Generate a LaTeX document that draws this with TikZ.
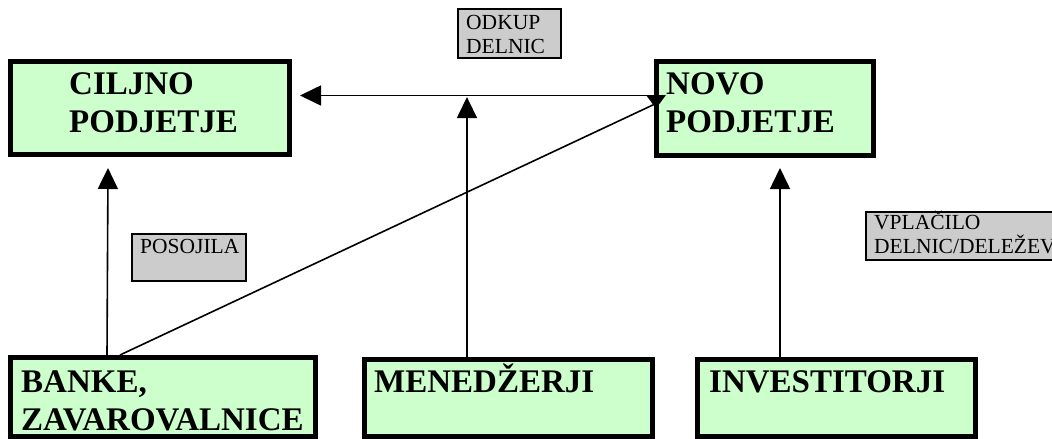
\documentclass[tikz,border=0pt]{standalone}
\usepackage{fontspec}
\setmainfont{Liberation Serif}
\usetikzlibrary{arrows.meta,calc}
\definecolor{boxgreen}{HTML}{CCFFCC}
\definecolor{boxgray}{HTML}{CCCCCC}
\tikzset{
  bigbox/.style={draw=black, fill=boxgreen, line width=5pt, inner sep=0pt},
  smallbox/.style={draw=black, fill=boxgray, line width=1.6pt, inner sep=0pt},
  bigtext/.style={anchor=base west, inner sep=0pt, align=left, font=\fontsize{33}{37.5}\selectfont\bfseries},
  smalltext/.style={anchor=base west, inner sep=0pt, align=left, font=\fontsize{21.5}{24}\selectfont},
  arr/.style={line width=1.6pt, -{Triangle[width=20pt,length=21pt]}},
  conn/.style={line width=1.6pt}
}
\begin{document}
\begin{tikzpicture}[x=1pt,y=-1pt]
\useasboundingbox (0,0) rectangle (1052,439);
% green boxes
\node[bigbox, minimum width=279pt, minimum height=93pt] (cil) at (150,108) {};
\node[bigbox, minimum width=217pt, minimum height=94pt] (nov) at (765,108.5) {};
\node[bigbox, minimum width=305pt, minimum height=79pt] (ban) at (163,397) {};
\node[bigbox, minimum width=288pt, minimum height=77pt] (men) at (508.5,398) {};
\node[bigbox, minimum width=278pt, minimum height=77pt] (inv) at (836.5,398) {};
% gray label boxes
\node[smallbox, minimum width=103.5pt, minimum height=49.5pt] (odk) at (509.5,33.5) {};
\node[smallbox, minimum width=114.5pt, minimum height=47.5pt] (pos) at (189,257.5) {};
\node[smallbox, minimum width=208.5pt, minimum height=48.5pt] (vpl) at (970,236) {};
% texts (base anchor = baseline of last line)
\node[bigtext] (tcil) at (69,132) {CILJNO\\PODJETJE};
\node[bigtext] (tnov) at (666,132) {NOVO\\PODJETJE};
\node[bigtext] (tban) at (21,430) {BANKE,\\ZAVAROVALNICE};
\node[bigtext] (tmen) at (374,392) {MENEDŽERJI};
\node[bigtext] (tinv) at (709,392) {INVESTITORJI};
\node[smalltext] (todk) at (466,53) {ODKUP\\DELNIC};
\node[smalltext] (tpos) at (140,253) {POSOJILA};
\node[smalltext] (tvpl) at (874,253) {VPLAČILO\\DELNIC/DELEŽEV};
% connectors
\draw[arr] ($(ban.north west)+(99,0)$) -- ($(cil.south west)+(100,11)$);
\draw[arr] ($(inv.north west)+(85,0)$) -- ($(nov.south west)+(126,10)$);
\draw[arr] ($(nov.west)+(0,-13)$) -- ($(cil.east)+(8,-12.5)$);
\draw[arr] ($(men.north west)+(105,0)$) -- ($(odk.south west)+(10,38)$);
\draw[conn] ($(ban.north west)+(112,0)$) -- ($(nov.west)+(2,-5)$);
\fill ($(nov.west)+(-8,-13.5)$) -- ($(nov.west)+(12,-13.5)$) -- ($(nov.west)+(2,0)$) -- cycle;
\end{tikzpicture}
\end{document}
